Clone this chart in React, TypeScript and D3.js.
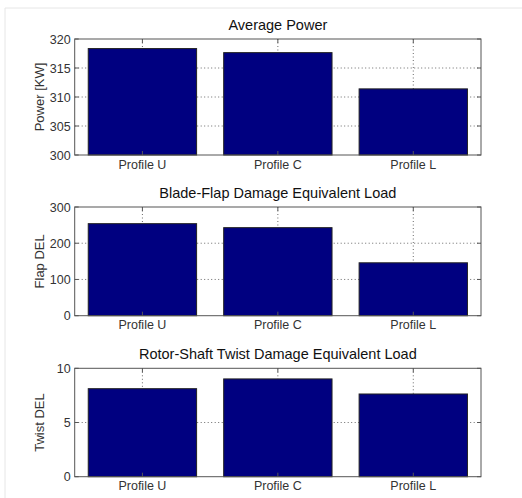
import React from "react";
import * as d3 from "d3";

const categories = ["Profile U", "Profile C", "Profile L"];

const powerValues = [318.35, 317.65, 311.4];
const flapValues = [254, 243, 146];
const twistValues = [8.12, 9.02, 7.63];

const powerTicks = [300, 305, 310, 315, 320];
const flapTicks = [0, 100, 200, 300];
const twistTicks = [0, 5, 10];

const panels = [
  { title: "Average Power", ylabel: "Power [KW]", values: powerValues, domain: [300, 320], ticks: powerTicks, top: 39, bottom: 155 },
  { title: "Blade-Flap Damage Equivalent Load", ylabel: "Flap DEL", values: flapValues, domain: [0, 300], ticks: flapTicks, top: 207, bottom: 315.7 },
  { title: "Rotor-Shaft Twist Damage Equivalent Load", ylabel: "Twist DEL", values: twistValues, domain: [0, 10], ticks: twistTicks, top: 368.3, bottom: 476.7 },
];

const left = 74.7;
const right = 481;
const font = "'Liberation Sans', Arial, sans-serif";

// matlab-style: xlim [0.5, 3.5], bar width 0.8
const x = d3.scaleLinear().domain([0.5, 3.5]).range([left, right]);

function Panel({ p }: { p: (typeof panels)[number] }) {
  const y = d3.scaleLinear().domain(p.domain).range([p.bottom, p.top]);
  const gridCol = "#444";
  return (
    <g>
      {/* grid */}
      {p.ticks.slice(1, -1).map((t) => (
        <line key={"gy" + t} x1={left} x2={right} y1={y(t)} y2={y(t)} stroke={gridCol} strokeWidth={0.8} strokeDasharray="1,2.5" />
      ))}
      {categories.map((c, i) => (
        <line key={"gx" + c} x1={x(i + 1)} x2={x(i + 1)} y1={p.top} y2={p.bottom} stroke={gridCol} strokeWidth={0.8} strokeDasharray="1,2.5" />
      ))}
      {/* bars */}
      {p.values.map((v, i) => (
        <rect
          key={i}
          x={x(i + 1 - 0.4)}
          width={x(i + 1 + 0.4) - x(i + 1 - 0.4)}
          y={y(v)}
          height={y(p.domain[0]) - y(v)}
          fill="#000080"
          stroke="#222"
          strokeWidth={1}
        />
      ))}
      {/* tick marks */}
      {p.ticks.map((t) => (
        <g key={"t" + t}>
          <line x1={left} x2={left + 4} y1={y(t)} y2={y(t)} stroke="#555" />
          <line x1={right} x2={right - 4} y1={y(t)} y2={y(t)} stroke="#555" />
        </g>
      ))}
      {categories.map((c, i) => (
        <g key={"xt" + c}>
          <line x1={x(i + 1)} x2={x(i + 1)} y1={p.top} y2={p.top + 4} stroke="#555" />
          <line x1={x(i + 1)} x2={x(i + 1)} y1={p.bottom} y2={p.bottom - 4} stroke="#555" />
        </g>
      ))}
      {/* box */}
      <rect x={left} y={p.top} width={right - left} height={p.bottom - p.top} fill="none" stroke="#555" strokeWidth={1} />
      {/* tick labels */}
      {p.ticks.map((t) => (
        <text key={"yl" + t} x={left - 4} y={y(t)} dy="0.36em" textAnchor="end" fontSize={12.5} fontFamily={font} fill="#333">
          {t}
        </text>
      ))}
      {categories.map((c, i) => (
        <text key={"xl" + c} x={x(i + 1)} y={p.bottom + 13.5} textAnchor="middle" fontSize={12.5} fontFamily={font} fill="#333">
          {c}
        </text>
      ))}
      <text x={(left + right) / 2} y={p.top - 9} textAnchor="middle" fontSize={14.5} fontFamily={font} fill="#111">
        {p.title}
      </text>
      <text
        transform={`translate(${left - 31},${(p.top + p.bottom) / 2}) rotate(-90)`}
        textAnchor="middle"
        fontSize={13}
        fontFamily={font}
        fill="#333"
      >
        {p.ylabel}
      </text>
    </g>
  );
}

export default function App() {
  return (
    <svg width={522} height={498} style={{ position: "absolute", left: 0, top: 0, background: "#fff" }}>
      <line x1={5} x2={522} y1={8} y2={8} stroke="#e6e6e6" />
      <line x1={5} x2={5} y1={8} y2={498} stroke="#e6e6e6" />
      {panels.map((p) => (
        <Panel key={p.title} p={p} />
      ))}
    </svg>
  );
}
